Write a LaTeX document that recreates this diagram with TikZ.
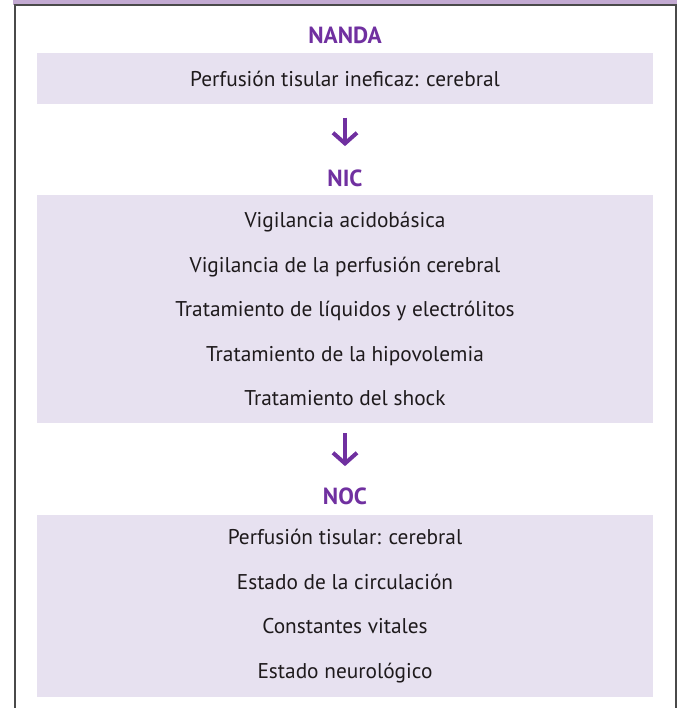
\documentclass[tikz,border=0pt]{standalone}
\usepackage{fontspec}
\setmainfont{PT Sans}
\usetikzlibrary{arrows.meta}
\definecolor{bandfill}{HTML}{C3AAD2}
\definecolor{frameedge}{HTML}{4A4A4A}
\definecolor{boxfill}{HTML}{E7E1F0}
\definecolor{headtext}{HTML}{7030A0}
\definecolor{itemtext}{HTML}{1E1A1C}

\begin{document}
\begin{tikzpicture}[x=0.75pt, y=-0.75pt,
  head/.style={font=\fontsize{17.5}{20}\selectfont\bfseries, text=headtext},
  panel/.style={rectangle, fill=boxfill, minimum width=616*0.75pt,
                align=center, text=itemtext, inner sep=0pt,
                font=\fontsize{16}{33.4}\selectfont},
  flow/.style={draw=headtext, line width=3pt,
               -{Straight Barb[length=8pt, width=18pt, line width=3pt]}},
]
\useasboundingbox (0,0) rectangle (677,708);
% outer frame with purple band on top
\fill[bandfill] (13,0) rectangle (677,4.5);
\draw[frameedge, line width=1.5pt] (14.5,708) -- (14.5,5.2) -- (675.5,5.2) -- (675.5,708);
% NANDA
\node[head] (nanda) at (345,35) {NANDA};
\node[panel, minimum height=51*0.75pt] (nanda_box) at (345,78.5)
  {Perfusión tisular ineficaz: cerebral};
% NIC
\node[head] (nic) at (345,178) {NIC};
\node[panel, minimum height=228*0.75pt] (nic_box) at (345,309)
  {Vigilancia acidobásica\\
   Vigilancia de la perfusión cerebral\\
   Tratamiento de líquidos y electrólitos\\
   Tratamiento de la hipovolemia\\
   Tratamiento del shock};
% NOC
\node[head] (noc) at (345,496) {NOC};
\node[panel, minimum height=182*0.75pt] (noc_box) at (345,606)
  {Perfusión tisular: cerebral\\
   Estado de la circulación\\
   Constantes vitales\\
   Estado neurológico};
% flow between the three blocks
\draw[flow, shorten <=10pt, shorten >=14pt] (nanda_box.south) -- (nic.north);
\draw[flow, shorten <=7.5pt, shorten >=12.5pt] (nic_box.south) -- (noc.north);
\end{tikzpicture}
\end{document}
